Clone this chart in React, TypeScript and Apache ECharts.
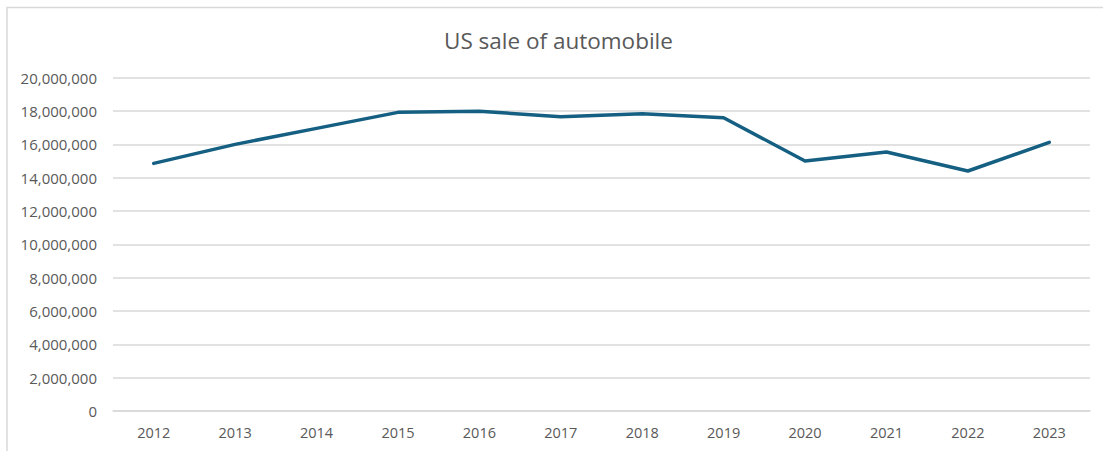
import React, { useEffect, useRef } from "react";
import * as echarts from "echarts";

const years = ["2012", "2013", "2014", "2015", "2016", "2017", "2018", "2019", "2020", "2021", "2022", "2023"];
const sales = [14860000, 16000000, 16960000, 17920000, 17990000, 17660000, 17830000, 17600000, 15000000, 15540000, 14400000, 16120000];
const yTicks = { min: 0, max: 20000000, interval: 2000000 };
const titleText = "US sale of automobile";

export default function App() {
  const ref = useRef<HTMLDivElement>(null);
  useEffect(() => {
    if (!ref.current) return;
    const chart = echarts.init(ref.current, undefined, { renderer: "svg" });
    const font = "'Open Sans', 'Noto Sans', sans-serif";
    chart.setOption({
      animation: false,
      backgroundColor: "#ffffff",
      title: {
        text: titleText,
        left: 439,
        top: 24,
        textStyle: { fontFamily: font, fontSize: 22.5, fontWeight: "normal", color: "#595959" },
      },
      graphic: [
        {
          type: "rect",
          shape: { x: 7, y: 7.5, width: 1200, height: 500 },
          style: { fill: "none", stroke: "#d9d9d9", lineWidth: 1.5 },
          silent: true,
        },
      ],
      grid: { left: 113, right: 13, top: 77.7, bottom: 40 },
      xAxis: {
        type: "category",
        data: years,
        boundaryGap: true,
        axisLine: { show: true, lineStyle: { color: "#d9d9d9", width: 1.5 } },
        axisTick: { show: false },
        axisLabel: { fontFamily: font, fontSize: 14.5, color: "#595959", margin: 14 },
      },
      yAxis: {
        type: "value",
        min: yTicks.min,
        max: yTicks.max,
        interval: yTicks.interval,
        axisLine: { show: false },
        axisTick: { show: false },
        splitLine: { lineStyle: { color: "#d9d9d9", width: 1.5 } },
        axisLabel: {
          fontFamily: font,
          fontSize: 15,
          color: "#595959",
          margin: 16,
          formatter: (v: number) => v.toLocaleString("en-US"),
        },
      },
      series: [
        {
          type: "line",
          data: sales,
          symbol: "none",
          lineStyle: { color: "#156082", width: 3.5, cap: "round", join: "round" },
        },
      ],
    });
    return () => chart.dispose();
  }, []);
  return (
    <div
      ref={ref}
      style={{ position: "fixed", left: 0, top: 0, width: 1103, height: 451 }}
    />
  );
}
